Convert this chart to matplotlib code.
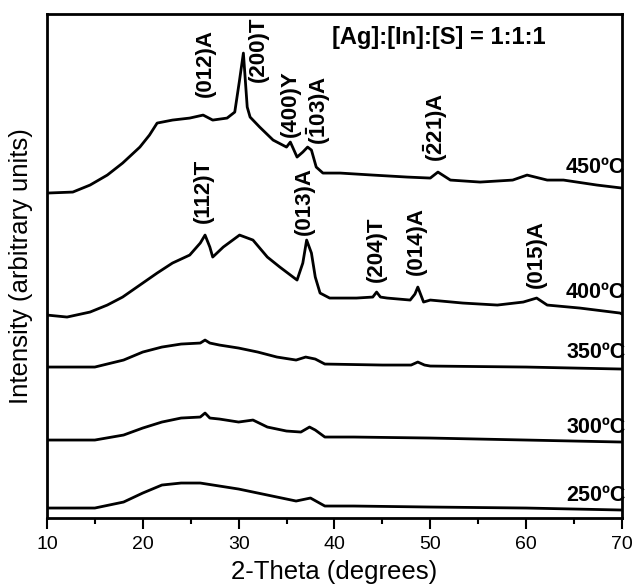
import matplotlib.pyplot as plt
from matplotlib.ticker import MultipleLocator

plt.rcParams['font.family'] = ['Liberation Sans', 'DejaVu Sans']
plt.rcParams['mathtext.fontset'] = 'custom'
plt.rcParams['mathtext.rm'] = 'Liberation Sans'
plt.rcParams['mathtext.bf'] = 'Liberation Sans:bold'

# XRD patterns (intensity already stacked per sample)
theta_250 = [10, 15, 18, 20, 22, 24, 26, 28, 30, 32, 34, 36, 37.5, 39, 42, 50, 60, 70]
int_250 = [10, 10, 16, 25, 33, 35, 35, 32, 29, 25, 21, 17, 20, 12, 12, 11, 10, 8]

theta_300 = [10, 15, 18, 20, 22, 24, 26, 26.5, 27, 28, 30, 31.5, 33, 35, 36.5, 37.4,
             38, 39, 42, 50, 60, 70]
int_300 = [78, 78, 83, 90, 96, 100, 101, 105, 100, 99, 96, 98, 91, 87, 86, 91,
           88, 81, 81, 80, 78, 76]

theta_350 = [10, 15, 18, 20, 22, 24, 26, 26.5, 27, 28, 30, 32, 34, 36, 37, 38, 39,
             45, 48, 48.7, 49.4, 50, 60, 70]
int_350 = [151, 151, 158, 166, 171, 174, 175, 178, 175, 173, 170, 166, 161, 158, 161,
           159, 154, 153, 153, 156, 153, 152, 151, 149]

theta_400 = [10, 12.1, 14.5, 16.3, 17.9, 19.7, 21.5, 23.1, 24.9, 26.0, 26.5, 27.0,
             27.3, 28.4, 30.1, 31.5, 33.0, 34.3, 36.1, 36.7, 37.1, 37.6, 38.0, 38.5,
             39.5, 42.3, 44.0, 44.4, 44.8, 45.5, 47.9, 48.4, 48.7, 49.3, 50.0, 53.4,
             57.0, 59.7, 61.1, 62.2, 65.6, 69.8, 70]
int_400 = [203, 201, 206, 213, 221, 233, 245, 255, 263, 275, 283, 271,
           261, 271, 283, 278, 261, 251, 238, 255, 278, 265, 241, 225,
           220, 220, 221, 226, 221, 220, 218, 224, 231, 216, 218, 215,
           213, 216, 220, 213, 210, 205, 204]

theta_450 = [10, 12.7, 14.5, 16.3, 17.9, 19.7, 20.7, 21.5, 23.1, 24.9, 26.3, 27.3,
             28.8, 29.6, 30.1, 30.5, 30.9, 31.2, 32.2, 33.6, 35.0, 35.4, 36.1, 36.7,
             37.2, 37.6, 38.1, 38.8, 40.6, 44.0, 47.6, 50.0, 50.8, 52.1, 55.2, 58.6,
             60.1, 62.2, 63.9, 67.4, 70]
int_450 = [325, 326, 333, 343, 355, 371, 383, 395, 398, 400, 403, 398,
           400, 406, 438, 465, 411, 401, 391, 378, 371, 376, 361, 366,
           371, 368, 351, 345, 345, 343, 341, 340, 346, 338, 336, 338,
           343, 338, 338, 333, 330]

samples = ['250ºC', '300ºC', '350ºC', '400ºC', '450ºC']
sample_label_y = [23, 91, 166, 226, 351]

peak_names = ['(012)A', '(200)T', '(400)Y', r'$\mathbf{(\bar{1}03)A}$',
              r'$\mathbf{(\bar{2}21)A}$', '(112)T', '(013)A', '(204)T', '(014)A', '(015)A']
peak_theta = [26.5, 32.1, 35.4, 38.3, 50.5, 26.3, 36.9, 44.4, 48.6, 61.1]
peak_label_y = [421, 436, 381, 373, 356, 295, 283, 236, 243, 230]

fig = plt.figure(figsize=(6.34, 5.87), dpi=100)
ax = fig.add_axes([0.074, 0.1175, 0.907, 0.8585])

for th, inten in [(theta_250, int_250), (theta_300, int_300), (theta_350, int_350),
                  (theta_400, int_400), (theta_450, int_450)]:
    ax.plot(th, inten, color='black', linewidth=2.0)

for name, y in zip(samples, sample_label_y):
    ax.text(70.35, y, name, ha='right', va='center', fontsize=15.5,
            fontweight='bold', clip_on=False)

for name, th, y in zip(peak_names, peak_theta, peak_label_y):
    ax.text(th, y, name, rotation=90, ha='center', va='bottom', fontsize=16,
            fontweight='bold')

ax.text(50.9, 481, '[Ag]:[In]:[S] = 1:1:1', ha='center', va='center',
        fontsize=17, fontweight='bold')

ax.set_xlim(10, 70)
ax.set_ylim(0, 504)
ax.set_yticks([])
ax.xaxis.set_major_locator(MultipleLocator(10))
ax.xaxis.set_minor_locator(MultipleLocator(5))
ax.tick_params(axis='x', which='major', direction='out', length=8, width=1.5,
               labelsize=14, pad=5)
ax.tick_params(axis='x', which='minor', direction='out', length=4, width=1.5)
for sp in ax.spines.values():
    sp.set_linewidth(2)

ax.set_xlabel('2-Theta (degrees)', fontsize=18.5, labelpad=5)
ax.set_ylabel('Intensity (arbitrary units)', fontsize=18.5, labelpad=10)

fig.savefig('out.png', dpi=100)
